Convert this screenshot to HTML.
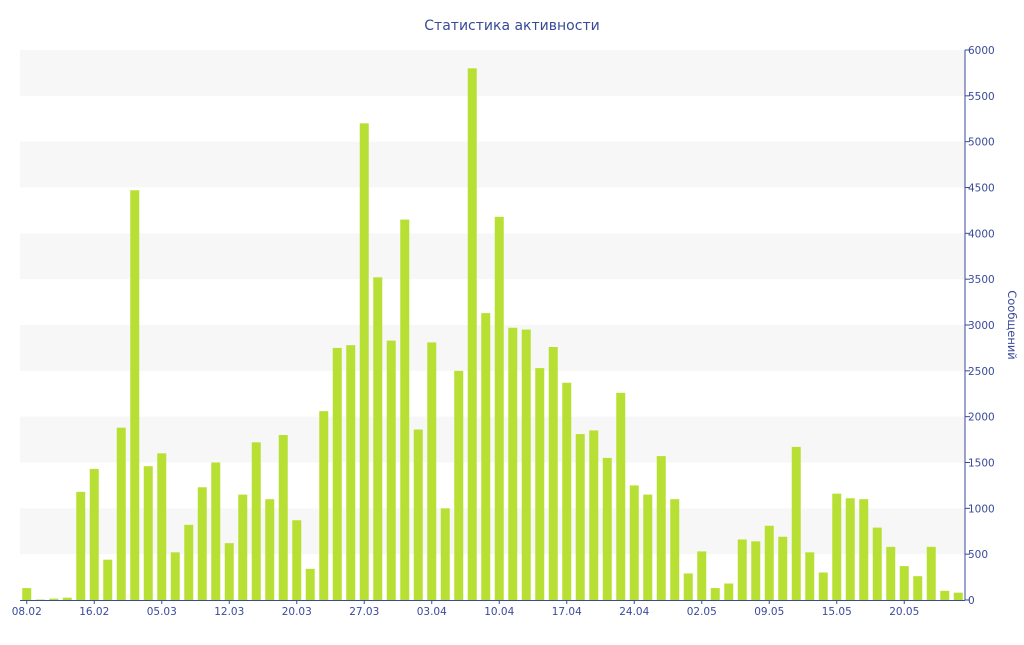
<!DOCTYPE html>
<html><head><meta charset="utf-8"><style>
body{margin:0;background:#fff;width:1024px;height:640px;overflow:hidden}
text{font-family:"DejaVu Sans","Liberation Sans",sans-serif;fill:#3a4a9a}
</style></head><body>
<svg id="chart" width="1024" height="640" xmlns="http://www.w3.org/2000/svg">
<text x="512" y="30" text-anchor="middle" font-size="14">Статистика активности</text>
<g id="bands"></g><g id="bars"></g><g id="axis"></g>
<text transform="translate(1008,325) rotate(90)" text-anchor="middle" font-size="11.5">Сообщений</text>
</svg>
<script>
const categories=["08.02","","","","","16.02","","","","","05.03","","","","","12.03","","","","","20.03","","","","","27.03","","","","","03.04","","","","","10.04","","","","","17.04","","","","","24.04","","","","","02.05","","","","","09.05","","","","","15.05","","","","","20.05","","","",""];
const values=[130,5,15,25,1180,1430,440,1880,4470,1460,1600,520,820,1230,1500,620,1150,1720,1100,1800,870,340,2060,2750,2780,5200,3520,2830,4150,1860,2810,1000,2500,5800,3130,4180,2970,2950,2530,2760,2370,1810,1850,1550,2260,1250,1150,1570,1100,290,530,130,180,660,640,810,690,1670,520,300,1160,1110,1100,790,580,370,260,580,100,80];
const yTicks=[0,500,1000,1500,2000,2500,3000,3500,4000,4500,5000,5500,6000];
const NS="http://www.w3.org/2000/svg";
const L=20,R=965,T=50,B=600,yMax=6000;
const y=v=>B-(v/yMax)*(B-T);
const step=(R-L)/categories.length;
const x=i=>L+step*(i+0.5);
function mk(t,a,p){const e=document.createElementNS(NS,t);for(const k in a)e.setAttribute(k,a[k]);p.appendChild(e);return e;}
const bands=document.getElementById('bands'),bars=document.getElementById('bars'),ax=document.getElementById('axis');
for(let i=0;i<yTicks.length-1;i++){
 if(i%2===1){const r=mk('rect',{x:L,y:y(yTicks[i+1]),width:R-L,height:y(yTicks[i])-y(yTicks[i+1]),fill:'#f7f7f7'},bands);
 
 }
}
values.forEach((v,i)=>{const r=mk('rect',{x:x(i)-4.5,y:y(v),width:9,height:B-y(v),fill:'#b8e034'},bars);
 
 });
const al=mk('line',{x1:R,y1:T,x2:R,y2:B,stroke:'#3a4a9a','stroke-width':1},ax);


const xl=mk('line',{x1:L,y1:B+0.5,x2:R,y2:B+0.5,stroke:'#3a4a9a','stroke-width':1},ax);


yTicks.forEach(t=>{mk('line',{x1:R,y1:y(t),x2:R+5,y2:y(t),stroke:'#3a4a9a'},ax);
 const tx=mk('text',{x:R+3,y:y(t)+4,'font-size':10.5},ax);tx.textContent=t;
 
 });
categories.forEach((c,i)=>{if(!c)return;
 mk('line',{x1:x(i),y1:B,x2:x(i),y2:B+4,stroke:'#3a4a9a'},ax);
 const tx=mk('text',{x:x(i),y:B+15,'font-size':10.5,'text-anchor':'middle'},ax);tx.textContent=c;
 
 });
</script>
</body></html>
